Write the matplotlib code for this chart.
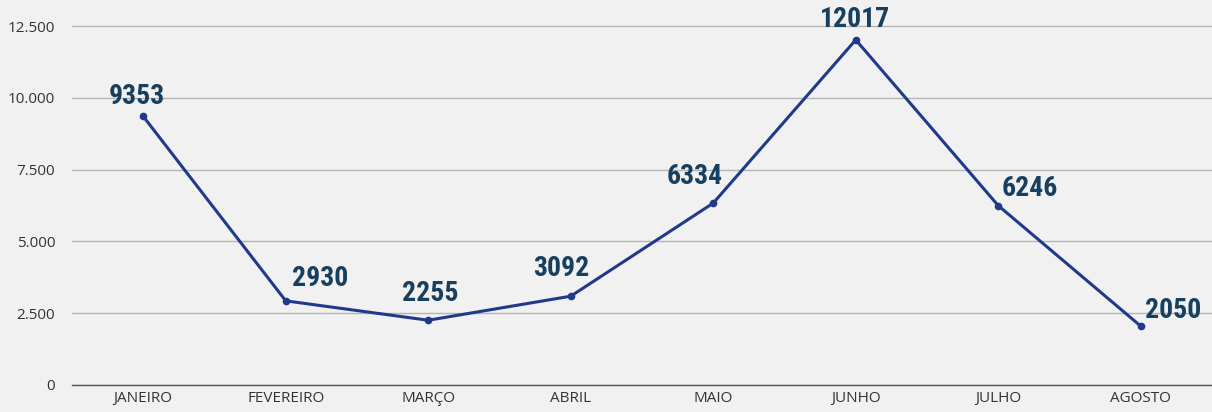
import matplotlib.pyplot as plt
from matplotlib.ticker import FuncFormatter
from matplotlib import font_manager

# monthly values
months = ["JANEIRO", "FEVEREIRO", "MARÇO", "ABRIL", "MAIO", "JUNHO", "JULHO", "AGOSTO"]
values = [9353, 2930, 2255, 3092, 6334, 12017, 6246, 2050]
yticks = [0, 2500, 5000, 7500, 10000, 12500]

# label offsets in pixels (dx, dy) relative to each point
label_offsets = [(-6, 20), (34, 22), (2, 27), (-10, 28), (-19, 27), (-1, 20), (32, 17), (32, 16)]

bg = "#f1f1f1"
line_color = "#1f3a8a"
label_color = "#173f5f"

# pick a narrow bold face if one exists
names = {f.name for f in font_manager.fontManager.ttflist}
label_font = "Roboto"
for cand in ["Roboto Condensed", "Liberation Sans Narrow"]:
    if cand in names:
        label_font = cand
        break

fig = plt.figure(figsize=(12.12, 4.12), dpi=100, facecolor=bg)
ax = fig.add_axes([72 / 1212, 27 / 412, 1 - 72 / 1212, 1 - 27 / 412])
ax.set_facecolor(bg)

x = list(range(len(months)))
ax.plot(x, values, color=line_color, linewidth=2.2, marker="o", markersize=4.5, zorder=3)

for xi, v, (dx, dy) in zip(x, values, label_offsets):
    ax.annotate(str(v), (xi, v), xytext=(dx * 0.72, dy * 0.72), textcoords="offset points",
                ha="center", va="center", fontsize=20, fontweight="bold",
                family=label_font, color=label_color)

ax.set_xlim(-0.5, 7.5)
ax.set_ylim(0, 12500 + 26 / 359 * 12500)
ax.set_yticks(yticks)
ax.yaxis.set_major_formatter(FuncFormatter(lambda v, p: f"{int(v):,}".replace(",", ".")))
ax.set_xticks(x)
ax.set_xticklabels(months)

ax.grid(axis="y", color="#b4b4b4", linewidth=1)
ax.set_axisbelow(True)
for s in ["top", "right", "left"]:
    ax.spines[s].set_visible(False)
ax.spines["bottom"].set_color("#555555")
ax.spines["bottom"].set_linewidth(1)

ax.tick_params(axis="both", length=0, labelsize=11, labelcolor="#333333")
ax.tick_params(axis="y", pad=12)
ax.tick_params(axis="x", pad=4)
for lbl in ax.get_xticklabels() + ax.get_yticklabels():
    lbl.set_family("Open Sans")

fig.savefig("out.png", dpi=100, facecolor=bg)
